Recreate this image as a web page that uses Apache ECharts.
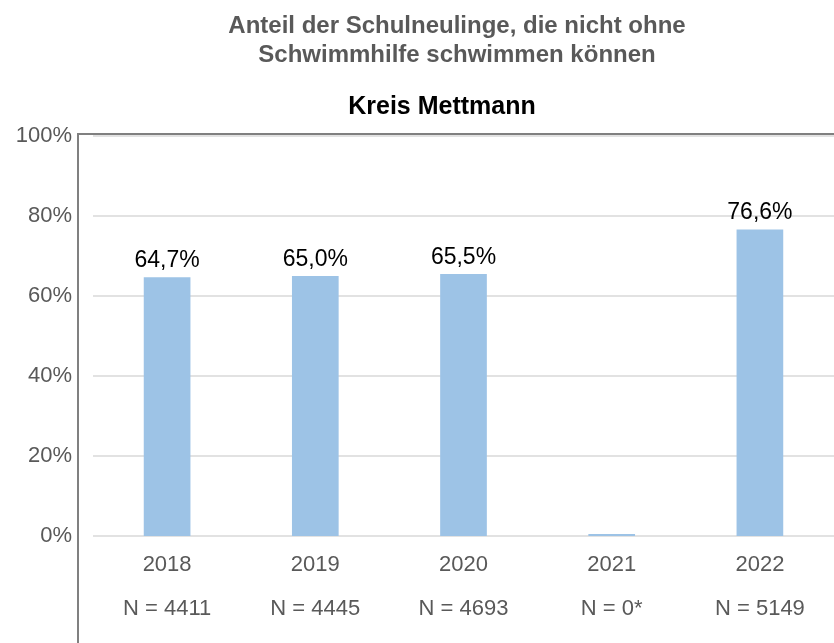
<!DOCTYPE html>
<html>
<head>
<meta charset="utf-8">
<script src="https://cdn.jsdelivr.net/npm/echarts@6/dist/echarts.min.js"></script>
<style>
  html, body { margin: 0; padding: 0; background: #fff; }
  #main { width: 834px; height: 643px; }
</style>
</head>
<body>
<div id="main"></div>
<script>
// Daten
var years = ['2018', '2019', '2020', '2021', '2022'];
var nLabels = ['N = 4411', 'N = 4445', 'N = 4693', 'N = 0*', 'N = 5149'];
var values = [64.7, 65.0, 65.5, 0.5, 76.6];
var showLabel = [true, true, true, false, true];

var font = '"Liberation Sans", Arial, sans-serif';
var myChart = echarts.init(document.getElementById('main'));

var option = {
  backgroundColor: '#fff',
  animation: false,
  title: [{
    text: 'Anteil der Schulneulinge, die nicht ohne\nSchwimmhilfe schwimmen können',
    left: 452, top: 7, textAlign: 'center',
    textStyle: { fontFamily: font, fontSize: 24, fontWeight: 'bold', color: '#595959', lineHeight: 29 }
  }, {
    text: 'Kreis Mettmann',
    left: 437, top: 90, textAlign: 'center',
    textStyle: { fontFamily: font, fontSize: 25, fontWeight: 'bold', color: '#000' }
  }],
  grid: { left: 93, right: -4, top: 136, bottom: 107 },
  xAxis: {
    type: 'category',
    data: years,
    axisLine: { show: false },
    axisTick: { show: false },
    axisLabel: {
      margin: 7,
      formatter: function (v, i) { return '{y|' + v + '}\n{n|' + nLabels[i] + '}'; },
      rich: {
        y: { fontFamily: font, fontSize: 22, color: '#595959', lineHeight: 44 },
        n: { fontFamily: font, fontSize: 22, color: '#595959', lineHeight: 44 }
      }
    }
  },
  yAxis: {
    type: 'value',
    min: 0, max: 100, interval: 20,
    axisLine: { show: false },
    axisTick: { show: false },
    splitLine: { lineStyle: { color: '#d9d9d9', width: 1.5 } },
    axisLabel: {
      margin: 21,
      fontFamily: font, fontSize: 22, color: '#595959',
      formatter: '{value}%'
    }
  },
  series: [{
    type: 'bar',
    barWidth: '31.5%',
    itemStyle: { color: '#9DC3E6' },
    data: values.map(function (v, i) {
      return { value: v, label: { show: showLabel[i] } };
    }),
    label: {
      position: 'top',
      distance: 5,
      fontFamily: font, fontSize: 23, color: '#000',
      formatter: function (p) { return p.value.toFixed(1).replace('.', ',') + '%'; }
    }
  }],
  graphic: [{
    type: 'line',
    shape: { x1: 78, y1: 134, x2: 78, y2: 643 },
    style: { stroke: '#808080', lineWidth: 2 }
  }, {
    type: 'line',
    shape: { x1: 77, y1: 134, x2: 834, y2: 134 },
    style: { stroke: '#808080', lineWidth: 2 }
  }]
};
myChart.setOption(option);
</script>
</body>
</html>
